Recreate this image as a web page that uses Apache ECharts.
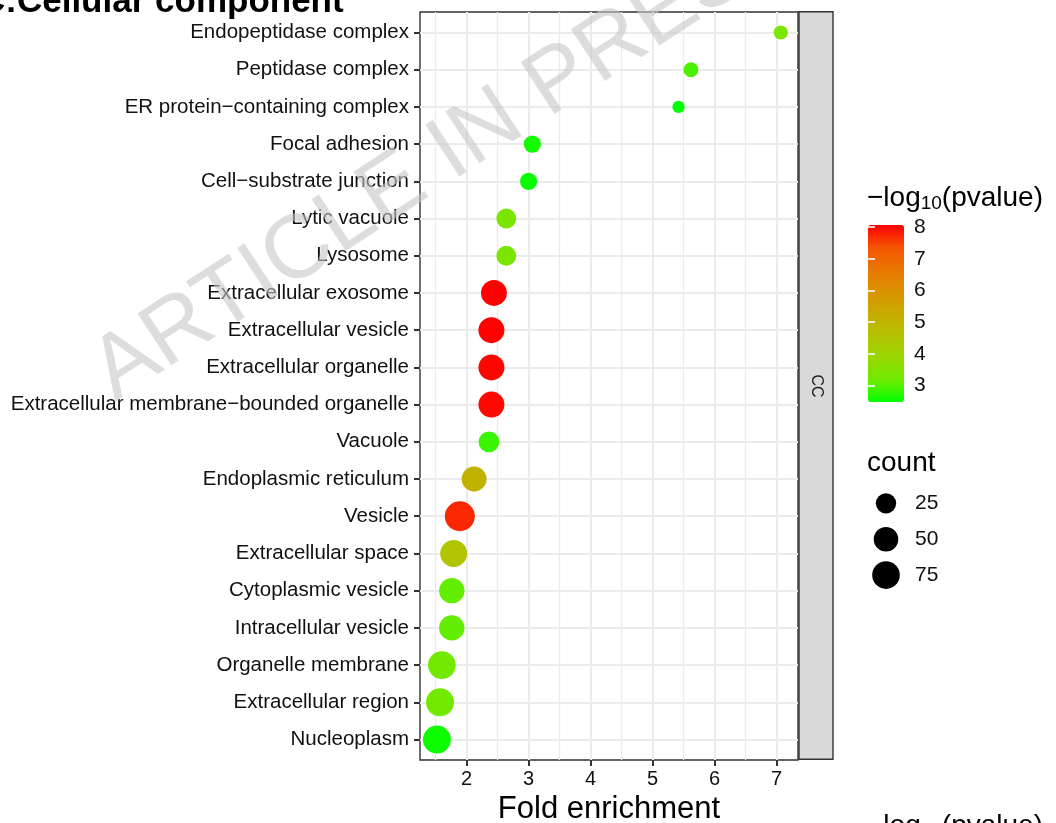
<!DOCTYPE html>
<html>
<head>
<meta charset="utf-8">
<script src="https://cdn.jsdelivr.net/npm/echarts@6/dist/echarts.min.js"></script>
<style>
html,body{margin:0;padding:0;background:#fff;}
#chart{width:1056px;height:823px;}
</style>
</head>
<body>
<div id="chart"></div>
<script>
// ---- data ----
const categories = [
  'Endopeptidase complex','Peptidase complex','ER protein\u2212containing complex','Focal adhesion',
  'Cell\u2212substrate junction','Lytic vacuole','Lysosome','Extracellular exosome','Extracellular vesicle',
  'Extracellular organelle','Extracellular membrane\u2212bounded organelle','Vacuole','Endoplasmic reticulum',
  'Vesicle','Extracellular space','Cytoplasmic vesicle','Intracellular vesicle','Organelle membrane',
  'Extracellular region','Nucleoplasm'
];
const foldEnrichment = [7.07,5.62,5.42,3.06,3.00,2.64,2.64,2.44,2.40,2.40,2.40,2.36,2.12,1.89,1.79,1.76,1.76,1.60,1.57,1.52];
const negLog10P      = [3.37,2.95,2.48,2.60,2.54,3.35,3.35,8.07,8.05,8.02,8.00,2.84,5.05,7.73,4.55,3.10,3.10,3.20,3.20,2.56];
const geneCount      = [7,8,6,13,13,23,23,60,61,61,61,27,53,98,69,56,56,76,78,78];
const xTicks = [2,3,4,5,6,7];
const xMinorGrid = [1.5,2.5,3.5,4.5,5.5,6.5];
const colorTicks = [3,4,5,6,7,8];
const sizeBreaks = [25,50,75];
const colorStops = ['#00FF00','#70EB00','#98D700','#B3C200','#C9AB00','#DA9200','#E87700','#F45300','#FF0000'];

const FONT = 'Liberation Sans, Arial, Helvetica, sans-serif';
const rowIdx = categories.map((c,i)=>i+1);
const cMin = Math.min.apply(null, geneCount), cMax = Math.max.apply(null, geneCount);
function sizeScale(c){ // area-proportional size scale (like ggplot scale_size)
  const t = Math.max(0, (c - cMin) / (cMax - cMin));
  return 12.3 + 17.7 * Math.sqrt(t);
}
const pMin = Math.min.apply(null, negLog10P), pMax = Math.max.apply(null, negLog10P);

const chart = echarts.init(document.getElementById('chart'), null, {renderer:'canvas'});
const option = {
  animation:false,
  backgroundColor:'#fff',
  textStyle:{fontFamily:FONT},
  grid:[
    {left:420, top:12, width:378, height:748, show:true, borderColor:'#333', borderWidth:1.4, backgroundColor:'transparent', containLabel:false, outerBoundsMode:'none'},
    {left:868, top:225, width:36, height:177, containLabel:false, outerBoundsMode:'none'},
    {left:872, top:485.4, width:28, height:107.6, containLabel:false, outerBoundsMode:'none'}
  ],
  xAxis:[
    {gridIndex:0, type:'value', min:1.247, max:7.348,
     axisLine:{show:false},
     axisTick:{show:true, customValues:xTicks, length:6, lineStyle:{color:'#333', width:2}},
     axisLabel:{customValues:xTicks, fontSize:20, color:'#111', margin:9, fontFamily:FONT},
     splitLine:{show:true, lineStyle:{color:'#EBEBEB', width:2}},
     name:'Fold enrichment', nameLocation:'middle', nameGap:34,
     nameTextStyle:{fontSize:31, color:'#000', fontFamily:FONT}},
    {gridIndex:1, type:'value', show:false, min:0, max:1},
    {gridIndex:2, type:'value', show:false, min:-1, max:1}
  ],
  yAxis:[
    {gridIndex:0, type:'value', inverse:true, min:0.45, max:20.55,
     axisLine:{show:false},
     axisTick:{show:true, customValues:rowIdx, length:6, lineStyle:{color:'#333', width:2}},
     axisLabel:{customValues:rowIdx, fontSize:20.5, color:'#111', margin:11, fontFamily:FONT,
       formatter:function(v){ return categories[Math.round(v)-1] || ''; }},
     splitLine:{show:true, lineStyle:{color:'#EBEBEB', width:2}}},
    {gridIndex:1, type:'value', min:pMin, max:pMax, position:'right', z:10,
     axisLine:{show:false},
     axisTick:{show:true, customValues:colorTicks, inside:true, length:7, lineStyle:{color:'#fff', width:1.5}},
     axisLabel:{customValues:colorTicks, fontSize:21, color:'#111', margin:10, fontFamily:FONT},
     splitLine:{show:false}},
    {gridIndex:1, type:'value', min:pMin, max:pMax, position:'left', z:10,
     axisLine:{show:false},
     axisTick:{show:true, customValues:colorTicks, inside:true, length:7, lineStyle:{color:'#fff', width:1.5}},
     axisLabel:{show:false}, splitLine:{show:false}},
    {gridIndex:2, type:'category', data:sizeBreaks.map(String), inverse:true, position:'right',
     axisLine:{show:false}, axisTick:{show:false},
     axisLabel:{fontSize:21, color:'#111', margin:15, fontFamily:FONT}, splitLine:{show:false}}
  ],
  visualMap:[{
    type:'continuous', seriesIndex:1, dimension:2, min:pMin, max:pMax,
    inRange:{color:colorStops}, calculable:false, hoverLink:false,
    left:863, top:220, itemWidth:36, itemHeight:177, text:null, padding:5
  }],
  series:[
    {type:'line', xAxisIndex:0, yAxisIndex:0, data:[], z:1, silent:true,
     markLine:{symbol:'none', silent:true, animation:false, z:1, label:{show:false},
       lineStyle:{color:'#EBEBEB', width:1.3, type:'solid'},
       data:xMinorGrid.map(v=>({xAxis:v}))}},
    {type:'scatter', name:'GO', xAxisIndex:0, yAxisIndex:0, z:10,
     data:categories.map((c,i)=>[foldEnrichment[i], i+1, negLog10P[i], geneCount[i], c]),
     symbolSize:function(v){ return sizeScale(v[3]); },
     itemStyle:{opacity:1}},
    {type:'scatter', xAxisIndex:2, yAxisIndex:3, z:10,
     data:sizeBreaks.map(b=>[0, String(b), b]),
     symbolSize:function(v){ return sizeScale(v[2]); },
     itemStyle:{color:'#000', opacity:1}}
  ],
  graphic:[
    {type:'text', x:-20, y:2, z:50, style:{text:'C:Cellular component', fontSize:35, fontWeight:'bold', fontFamily:FONT, fill:'#000', align:'left', verticalAlign:'middle', textAlign:'left', textVerticalAlign:'middle'}},
    {type:'rect', z:5, shape:{x:799, y:11.7, width:34, height:747.6}, style:{fill:'#D9D9D9', stroke:'#333', lineWidth:1.4}},
    {type:'text', x:816, y:386, rotation:-Math.PI/2, z:6, style:{text:'CC', fontSize:16, fontFamily:FONT, fill:'#1A1A1A', align:'center', verticalAlign:'middle', textAlign:'center', textVerticalAlign:'middle'}},
    {type:'text', x:867, y:198, z:6, style:{text:'{a|\u2212log}{s|10}{a|(pvalue)}', fontFamily:FONT, fill:'#000', align:'left', verticalAlign:'middle', textAlign:'left', textVerticalAlign:'middle',
      rich:{a:{fontSize:28, fontFamily:FONT, lineHeight:30, fill:'#000'}, s:{fontSize:19, fontFamily:FONT, lineHeight:18, verticalAlign:'bottom', fill:'#000'}}}},
    {type:'text', x:867, y:463, z:6, style:{text:'count', fontSize:28, fontFamily:FONT, fill:'#000', align:'left', verticalAlign:'middle', textAlign:'left', textVerticalAlign:'middle'}},
    {type:'text', x:867, y:826, z:6, style:{text:'{a|\u2212log}{s|10}{a|(pvalue)}', fontFamily:FONT, fill:'#000', align:'left', verticalAlign:'middle', textAlign:'left', textVerticalAlign:'middle',
      rich:{a:{fontSize:28, fontFamily:FONT, lineHeight:30, fill:'#000'}, s:{fontSize:19, fontFamily:FONT, lineHeight:18, verticalAlign:'bottom', fill:'#000'}}}},
    {type:'text', x:126, y:419, rotation:0.58, z:100, silent:true, style:{text:'ARTICLE IN PRESS', fontSize:90, fontFamily:FONT, fill:'rgba(198,198,198,0.6)', align:'left', verticalAlign:'bottom', textAlign:'left', textVerticalAlign:'bottom'}}
  ]
};
chart.setOption(option);
</script>
</body>
</html>
